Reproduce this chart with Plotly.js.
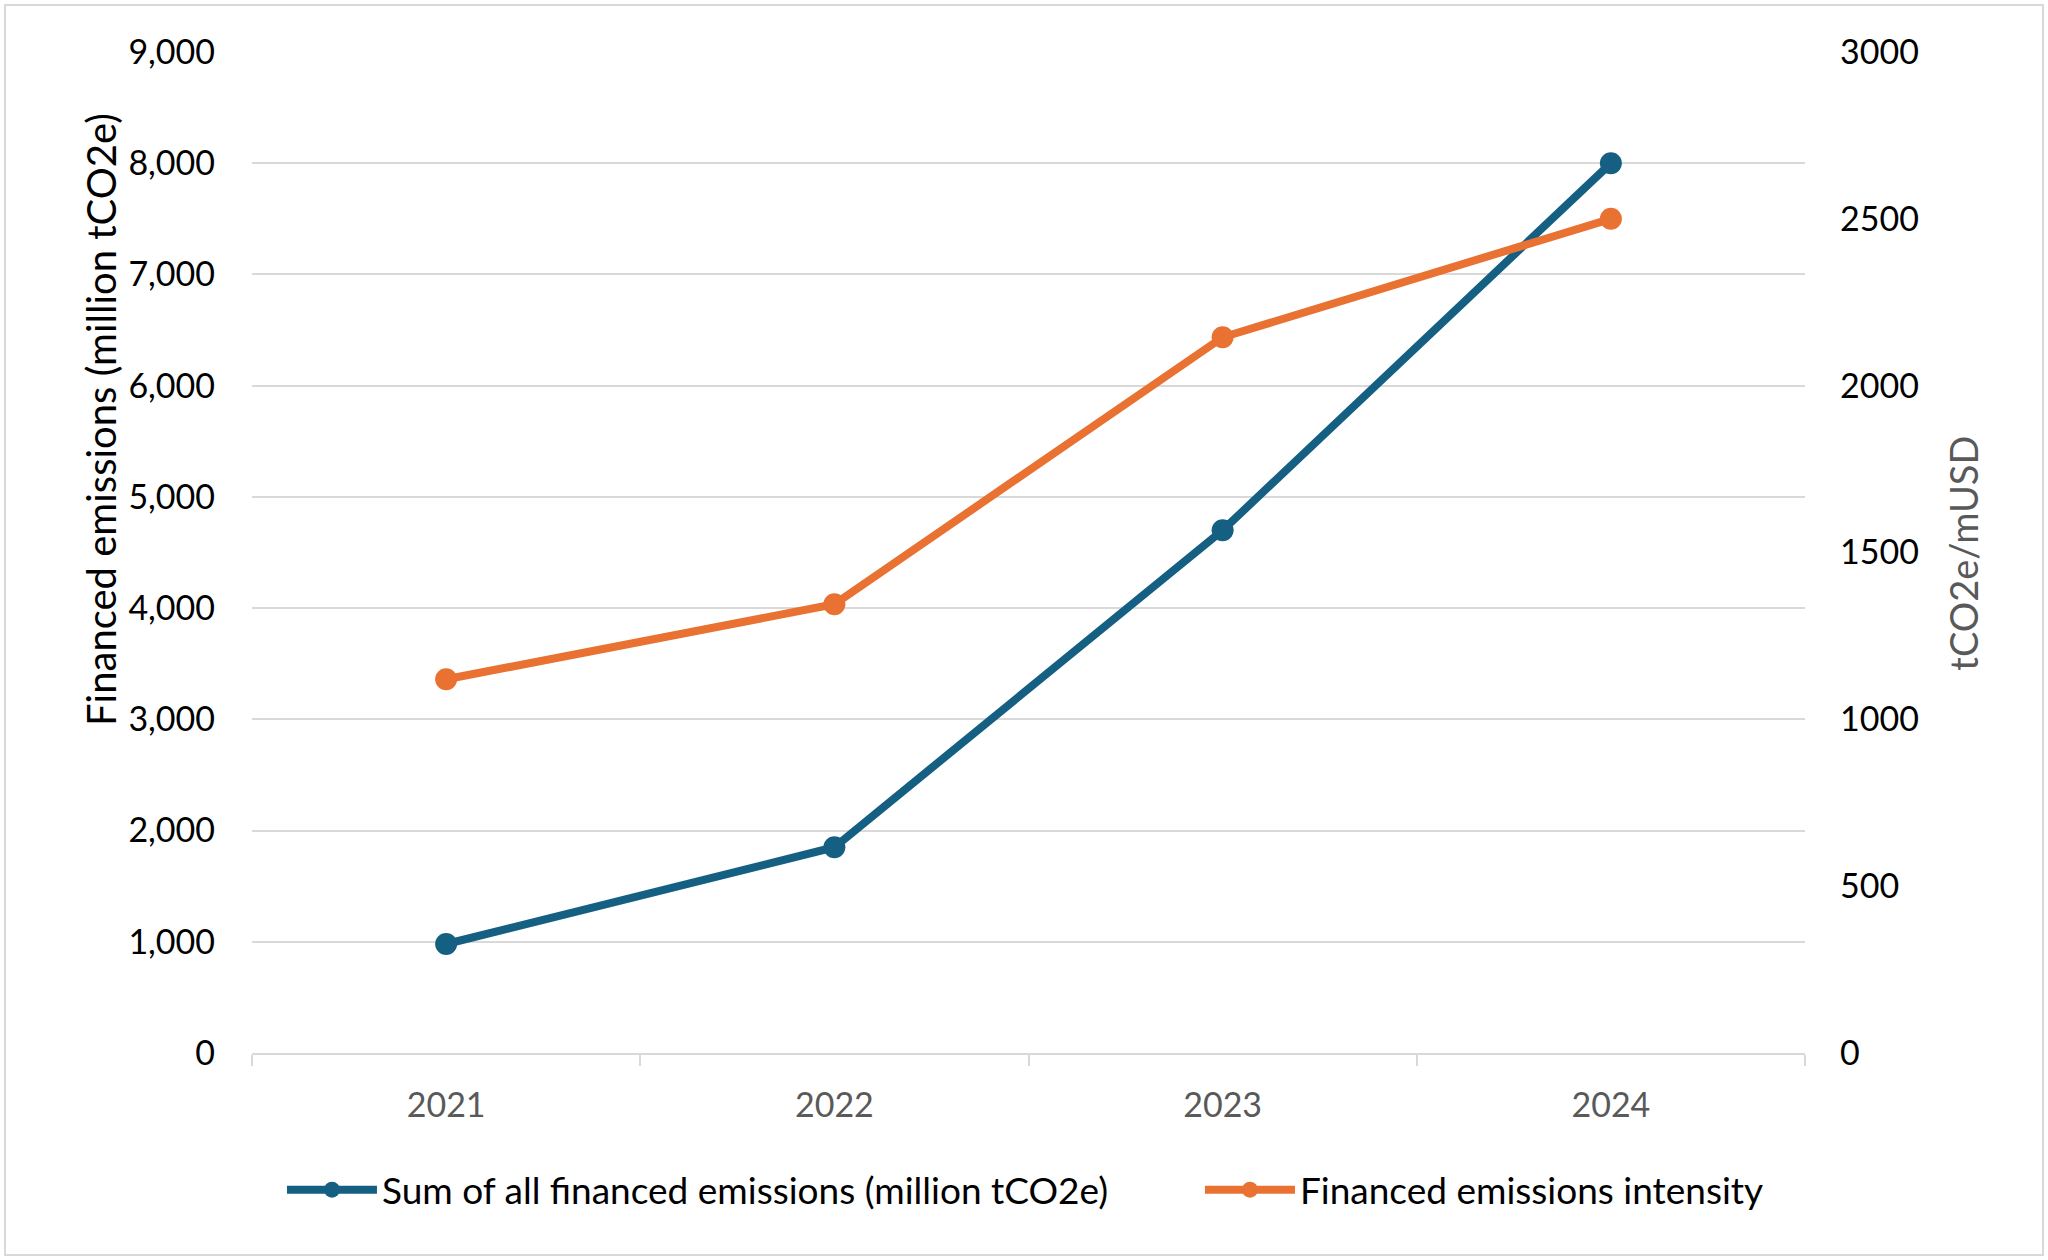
<!DOCTYPE html>
<html>
<head>
<meta charset="utf-8">
<script src="https://cdn.plot.ly/plotly-3.0.1.min.js"></script>
<style>
  html, body { margin: 0; padding: 0; background: #ffffff; }
  #chart { position: absolute; left: 0; top: 0; width: 2048px; height: 1260px; }
  #frame { position: absolute; left: 4px; top: 4px; width: 2036px; height: 1248px;
           border: 2px solid #d9d9d9; pointer-events: none; }
</style>
</head>
<body>
<div id="chart"></div>
<div id="frame"></div>
<script>
// Reporting years
const years = ['2021', '2022', '2023', '2024'];

// Sum of all financed emissions, million tCO2e (left axis)
const financedEmissions = [980, 1850, 4700, 8000];

// Financed emissions intensity, tCO2e per million USD (right axis)
const emissionsIntensity = [1120, 1345, 2145, 2500];

const seriesNames = ['Sum of all financed emissions (million tCO2e)', 'Financed emissions intensity'];
const leftTitle = 'Financed emissions (million tCO2e)';
const rightTitle = 'tCO2e/mUSD';

const BLUE = '#156082';
const ORANGE = '#E97132';
const GRID = '#d9d9d9';
const FONT = 'Lato, "Open Sans", sans-serif';

const traces = [
  {
    x: years, y: financedEmissions, name: seriesNames[0],
    type: 'scatter', mode: 'lines+markers', yaxis: 'y',
    line: { color: BLUE, width: 8 },
    marker: { color: BLUE, size: 22 },
    legend: 'legend',
    hoverinfo: 'skip'
  },
  {
    x: years, y: emissionsIntensity, name: seriesNames[1],
    type: 'scatter', mode: 'lines+markers', yaxis: 'y2',
    line: { color: ORANGE, width: 8 },
    marker: { color: ORANGE, size: 22 },
    legend: 'legend2',
    hoverinfo: 'skip'
  }
];

// One legend box per series so the two entries sit side by side below the plot
function legendBox(x) {
  return {
    orientation: 'h',
    x: x, xanchor: 'left',
    y: -0.137, yanchor: 'middle',
    font: { family: FONT, size: 37, color: '#000000' },
    itemwidth: 90,
    bgcolor: 'rgba(0,0,0,0)'
  };
}

const layout = {
  width: 2048, height: 1260,
  paper_bgcolor: '#ffffff', plot_bgcolor: '#ffffff',
  font: { family: FONT, size: 34, color: '#000000' },
  margin: { l: 252, r: 243, t: 52, b: 207, pad: 0 },
  showlegend: true,
  legend: legendBox(0.0193),
  legend2: legendBox(0.6104),
  xaxis: {
    type: 'category',
    range: [-0.5, 3.5],
    showgrid: false,
    zeroline: false,
    showline: true, linecolor: GRID, linewidth: 2,
    ticks: 'outside', tickson: 'boundaries',
    ticklen: 11, tickwidth: 2, tickcolor: GRID,
    tickfont: { family: FONT, size: 34, color: '#595959' },
    ticklabelstandoff: 21,
    fixedrange: true
  },
  yaxis: {
    range: [0, 9000],
    dtick: 1000, tick0: 0,
    tickformat: ',d',
    showgrid: true, gridcolor: GRID, gridwidth: 2,
    zeroline: false, showline: false,
    ticks: '',
    tickfont: { family: FONT, size: 34, color: '#000000' },
    ticklabelstandoff: 36,
    fixedrange: true
  },
  yaxis2: {
    overlaying: 'y', side: 'right',
    range: [0, 3000],
    dtick: 500, tick0: 0,
    tickformat: 'd',
    showgrid: false, zeroline: false, showline: false,
    ticks: '',
    tickfont: { family: FONT, size: 34, color: '#000000' },
    ticklabelstandoff: 34,
    fixedrange: true
  },
  annotations: [
    {
      text: leftTitle, xref: 'paper', yref: 'paper',
      x: -0.0972, y: 0.6325, xanchor: 'center', yanchor: 'middle',
      textangle: -90, showarrow: false,
      font: { family: FONT, size: 40, color: '#000000' }
    },
    {
      text: rightTitle, xref: 'paper', yref: 'paper',
      x: 1.1017, y: 0.4997, xanchor: 'center', yanchor: 'middle',
      textangle: -90, showarrow: false,
      font: { family: FONT, size: 38, color: '#595959' }
    }
  ]
};

Plotly.newPlot('chart', traces, layout, { displayModeBar: false, staticPlot: true });
</script>
</body>
</html>
